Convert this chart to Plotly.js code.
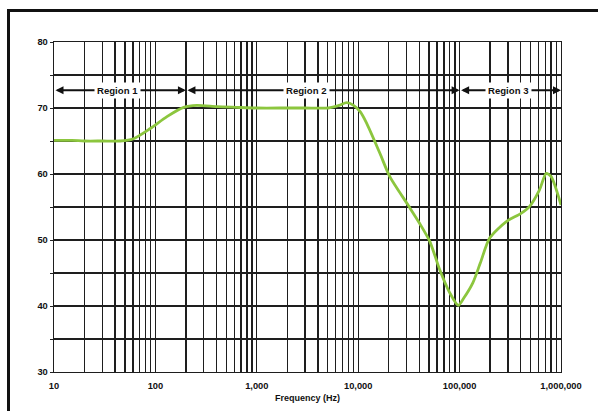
<!DOCTYPE html>
<html>
<head>
<meta charset="utf-8">
<script src="https://cdn.plot.ly/plotly-3.0.1.min.js"></script>
<style>
  html, body { margin: 0; padding: 0; background: #fff; }
  #wrap { position: relative; width: 598px; height: 411px; overflow: hidden; }
  #chart { width: 598px; height: 411px; }
  #frame { position: absolute; left: 7px; top: 9px; width: 700px; height: 500px;
           border-top: 3px solid #111; border-left: 3px solid #111; pointer-events: none; }
</style>
</head>
<body>
<div id="wrap">
  <div id="chart"></div>
  <div id="frame"></div>
</div>
<script>
// Response curve data
const frequency = [10, 15, 20, 30, 45, 60, 89, 130, 190, 257, 404, 630, 1000, 2000, 3000, 5070, 6500, 7690, 9000, 10500, 12100, 16400, 20500, 31000, 40400, 50800, 63700, 80000, 97000, 110000, 135000, 160000, 198000, 289000, 400000, 490000, 614000, 715000, 800000, 1000000];
const level = [65.1, 65.1, 65.0, 65.0, 65.0, 65.3, 66.9, 68.7, 70.1, 70.4, 70.2, 70.1, 70.0, 70.0, 70.0, 70.0, 70.4, 70.8, 70.4, 69.4, 67.7, 63.1, 59.6, 55.3, 52.5, 49.8, 45.5, 42.0, 40.1, 41.2, 43.5, 46.5, 50.3, 52.8, 54.0, 55.1, 57.6, 60.1, 59.6, 55.3];

// Regions
const regionNames = ["Region 1", "Region 2", "Region 3"];
const regionStart = [10, 200, 100000];
const regionEnd = [200, 100000, 1000000];
const regionLabelX = [42, 3076, 302700];
const regionY = 72.7;

// Axis ticks
const xGridVals = [];
for (let d = 10; d < 1000000; d *= 10) { for (let m = 1; m <= 9; m++) xGridVals.push(d * m); }
xGridVals.push(1000000);
const xLabelMap = {10: "10", 100: "100", 1000: "1,000", 10000: "10,000", 100000: "100,000", 1000000: "1,000,000"};
const xGridText = xGridVals.map(v => xLabelMap[v] || "");
const yGridVals = [30, 35, 40, 45, 50, 55, 60, 65, 70, 75, 80];
const yGridText = yGridVals.map(v => v % 10 === 0 ? String(v) : "");

const font = {family: "Liberation Sans, Arial, sans-serif", size: 9, color: "#111"};
const annotations = [];
regionNames.forEach((name, i) => {
  annotations.push({
    x: Math.log10(regionEnd[i]), y: regionY, ax: Math.log10(regionStart[i]), ay: regionY,
    xref: "x", yref: "y", axref: "x", ayref: "y",
    text: "", showarrow: true, arrowhead: 2, startarrowhead: 2, arrowside: "end+start",
    arrowsize: 0.8, arrowwidth: 2, arrowcolor: "#111", standoff: 0, startstandoff: 0
  });
  annotations.push({
    x: Math.log10(regionLabelX[i]), y: regionY, xref: "x", yref: "y",
    text: "<b>" + name + "</b>", showarrow: false, bgcolor: "#fff", borderpad: 2,
    font: {family: font.family, size: 9.6, color: "#111"}
  });
});

const trace = {
  x: frequency, y: level, type: "scatter", mode: "lines",
  line: {color: "#8cc63e", width: 2.8, shape: "spline", smoothing: 0.7},
  hoverinfo: "skip"
};

const layout = {
  width: 598, height: 411,
  margin: {l: 54, r: 37, t: 42, b: 39},
  paper_bgcolor: "#fff", plot_bgcolor: "#fff",
  showlegend: false,
  font: font,
  xaxis: {
    type: "log", range: [1, 6], tickmode: "array", tickvals: xGridVals, ticktext: xGridText,
    showgrid: true, gridcolor: "#1e1e1e", gridwidth: 1.4,
    showline: true, linecolor: "#1e1e1e", linewidth: 1.4, mirror: true,
    ticks: "outside", ticklen: 4, tickcolor: "rgba(0,0,0,0)",
    tickfont: {family: font.family, size: 9.3, color: "#111", weight: "bold"},
    zeroline: false,
    title: {text: "<b>Frequency (Hz)</b>", font: {family: font.family, size: 9, color: "#111"}, standoff: 5}
  },
  yaxis: {
    range: [30, 80], tickmode: "array", tickvals: yGridVals, ticktext: yGridText,
    showgrid: true, gridcolor: "#1e1e1e", gridwidth: 1.4,
    showline: true, linecolor: "#1e1e1e", linewidth: 1.4, mirror: true,
    ticks: "outside", ticklen: 3, tickcolor: "#222",
    tickfont: {family: font.family, size: 9.3, color: "#111", weight: "bold"},
    zeroline: false
  },
  annotations: annotations
};

Plotly.newPlot("chart", [trace], layout, {staticPlot: true, displayModeBar: false});
</script>
</body>
</html>
